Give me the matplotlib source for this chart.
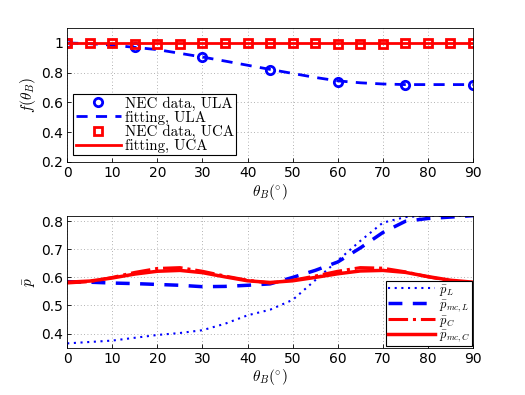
import matplotlib
matplotlib.use("Agg")
import matplotlib.pyplot as plt

# ── Data ──────────────────────────────────────────────────────────────────────
theta_nec_ula = [0, 15, 30, 45, 60, 75, 90]
f_nec_ula     = [1.0, 0.97, 0.905, 0.82, 0.74, 0.72, 0.72]

theta_fit_ula = [0, 5, 10, 15, 20, 25, 30, 35, 40, 45, 50, 55, 60, 65, 70, 75, 80, 85, 90]
f_fit_ula     = [1.0, 0.995, 0.985, 0.97, 0.955, 0.93, 0.905, 0.878, 0.85, 0.822, 0.795, 0.768,
                 0.745, 0.732, 0.724, 0.72, 0.72, 0.72, 0.72]

theta_nec_uca = [0, 5, 10, 15, 20, 25, 30, 35, 40, 45, 50, 55, 60, 65, 70, 75, 80, 85, 90]
f_nec_uca     = [1.0, 1.0, 0.998, 0.995, 0.995, 0.995, 0.998, 1.0, 1.0, 1.0, 1.0, 0.998,
                 0.995, 0.995, 0.995, 0.997, 1.0, 1.0, 1.0]
theta_fit_uca = [0, 90]
f_fit_uca     = [1.0, 1.0]

theta_p = [0, 5, 10, 15, 20, 25, 30, 35, 40, 45, 50, 55, 60, 65, 70, 75, 80, 85, 90]
p_L     = [0.365, 0.37, 0.375, 0.385, 0.395, 0.402, 0.412, 0.435, 0.465, 0.485, 0.52, 0.59,
           0.66, 0.73, 0.795, 0.815, 0.82, 0.82, 0.82]
p_mc_L  = [0.585, 0.583, 0.58, 0.578, 0.575, 0.572, 0.567, 0.568, 0.572, 0.577, 0.6, 0.625,
           0.655, 0.705, 0.76, 0.8, 0.81, 0.815, 0.82]
p_C     = [0.58, 0.585, 0.6, 0.618, 0.632, 0.635, 0.622, 0.605, 0.59, 0.58, 0.59, 0.605,
           0.622, 0.635, 0.633, 0.62, 0.602, 0.588, 0.58]
p_mc_C  = [0.583, 0.587, 0.598, 0.612, 0.622, 0.625, 0.617, 0.602, 0.588, 0.582, 0.588, 0.6,
           0.613, 0.623, 0.625, 0.618, 0.603, 0.59, 0.583]

x_ticks = list(range(0, 91, 10))
# ────────────────────────────────────────────────────────────────────────────────

plt.rcParams['mathtext.fontset'] = 'cm'
plt.rcParams['font.family'] = 'DejaVu Sans'
plt.rcParams['xtick.direction'] = 'in'
plt.rcParams['ytick.direction'] = 'in'

fig = plt.figure(figsize=(5.25, 3.95), dpi=100)
ax1 = fig.add_axes([0.128, 0.590, 0.773, 0.339])
ax2 = fig.add_axes([0.128, 0.120, 0.773, 0.334])

BLUE = '#0000ff'
RED = '#ff0000'

# top panel
ax1.plot(theta_nec_ula, f_nec_ula, 'o', color=BLUE, mfc='none', mew=2, ms=6,
         label='NEC data, ULA')
ax1.plot(theta_fit_ula, f_fit_ula, '--', color=BLUE, lw=2, dashes=(4, 3),
         label='fitting, ULA')
ax1.plot(theta_nec_uca, f_nec_uca, 's', color=RED, mfc='none', mew=2, ms=5.5,
         label='NEC data, UCA')
ax1.plot(theta_fit_uca, f_fit_uca, '-', color=RED, lw=2,
         label='fitting, UCA')
ax1.set_xlim(0, 90)
ax1.set_ylim(0.2, 1.1)
ax1.set_yticks([0.2, 0.4, 0.6, 0.8, 1.0])
ax1.set_yticklabels(['0.2', '0.4', '0.6', '0.8', '1'])
ax1.set_xticks(x_ticks)
ax1.set_xlabel(r'$\theta_B(^{\circ})$', fontsize=11, labelpad=1)
ax1.set_ylabel(r'$f(\theta_B)$', fontsize=11, labelpad=2)
leg1 = ax1.legend(loc='lower left', bbox_to_anchor=(0.015, 0.05),
                  prop={'family': 'cmr10', 'size': 10.8},
                  fancybox=False, edgecolor='black', framealpha=1, borderpad=0.15,
                  labelspacing=0.0, handlelength=3.0, handletextpad=0.3, borderaxespad=0)
leg1.get_frame().set_linewidth(0.8)

# bottom panel
ax2.plot(theta_p, p_L, ':', color=BLUE, lw=1.5, dashes=(1, 2.2), label=r'$\bar{p}_L$')
ax2.plot(theta_p, p_mc_L, '--', color=BLUE, lw=2.5, dashes=(4, 3), label=r'$\bar{p}_{mc,L}$')
ax2.plot(theta_p, p_C, '-.', color=RED, lw=2.2, label=r'$\bar{p}_C$')
ax2.plot(theta_p, p_mc_C, '-', color=RED, lw=2.5, label=r'$\bar{p}_{mc,C}$')
ax2.set_xlim(0, 90)
ax2.set_ylim(0.35, 0.82)
ax2.set_yticks([0.4, 0.5, 0.6, 0.7, 0.8])
ax2.set_xticks(x_ticks)
ax2.set_xlabel(r'$\theta_B(^{\circ})$', fontsize=11, labelpad=1)
ax2.set_ylabel(r'$\bar{p}$', fontsize=11, labelpad=2)
leg2 = ax2.legend(loc='lower right', bbox_to_anchor=(0.998, 0.01), fontsize=9,
                  fancybox=False, edgecolor='black', framealpha=1, borderpad=0.15,
                  labelspacing=0.0, handlelength=3.8, handletextpad=0.3, borderaxespad=0)
leg2.get_frame().set_linewidth(0.8)

for ax in (ax1, ax2):
    ax.grid(True, linestyle=(0, (1, 3)), color='#999999', lw=0.6)
    ax.tick_params(labelsize=10, length=3, width=0.6, pad=3)
    for s in ax.spines.values():
        s.set_linewidth(0.6)

fig.savefig('out.png', dpi=100)
